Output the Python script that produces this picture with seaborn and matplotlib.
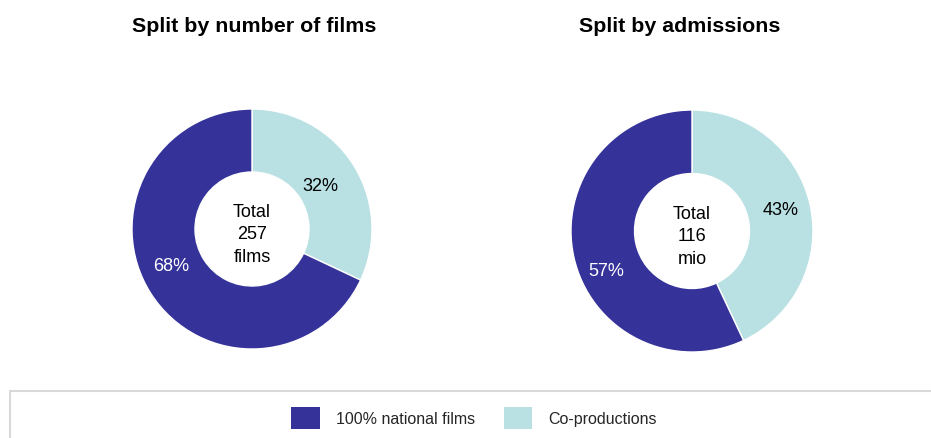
import numpy as np
import matplotlib
matplotlib.use("Agg")
import matplotlib.pyplot as plt
from matplotlib.patches import Patch, Rectangle
import seaborn as sns

# Data
categories = ["Co-productions", "100% national films"]
films_share = [32, 68]
admissions_share = [43, 57]
panel_titles = ["Split by number of films", "Split by admissions"]
centre_labels = ["Total\n257\nfilms", "Total\n116\nmio"]
legend_order = ["100% national films", "Co-productions"]

sns.set_theme(style="white")
plt.rcParams["font.family"] = ["Liberation Sans", "DejaVu Sans"]

palette = {"100% national films": "#35339a", "Co-productions": "#b9e0e3"}
label_colors = {"100% national films": "white", "Co-productions": "black"}

fig = plt.figure(figsize=(9.31, 4.39), dpi=100)

W, H = 931, 439


def donut_axes(cx, cy, r):
    return fig.add_axes([(cx - r) / W, (H - cy - r) / H, 2 * r / W, 2 * r / H])


# (centre x, centre y, radius) in pixels; label tweaks (angle offset deg, radius)
panels = [
    dict(values=films_share, box=(252, 230, 120), title_x=254,
         label_tweak=[(0, 0.67), (-8, 0.74)]),
    dict(values=admissions_share, box=(692, 232, 121), title_x=680,
         label_tweak=[(1, 0.75), (12, 0.78)]),
]

for i, p in enumerate(panels):
    ax = donut_axes(*p["box"])
    colors = [palette[c] for c in categories]
    wedges, _ = ax.pie(
        p["values"], colors=colors, startangle=90, counterclock=False,
        radius=1.0, wedgeprops=dict(width=0.525, edgecolor="white", linewidth=1.0),
    )
    for w, c, v, (dang, rr) in zip(wedges, categories, p["values"], p["label_tweak"]):
        mid = np.deg2rad((w.theta1 + w.theta2) / 2 + dang)
        ax.text(rr * np.cos(mid), rr * np.sin(mid), f"{v}%", ha="center", va="center",
                fontsize=13, color=label_colors[c])
    ax.text(0, -0.04, centre_labels[i], ha="center", va="center", fontsize=13,
            linespacing=1.4, color="black")
    ax.set_xlim(-1, 1)
    ax.set_ylim(-1, 1)
    ax.set_aspect("equal")
    ax.axis("off")
    fig.text(p["title_x"] / W, (H - 27) / H, panel_titles[i], ha="center", va="center",
             fontsize=15.4, fontweight="bold", color="black")

# Legend frame
fig.patches.append(Rectangle((9.5 / W, -0.05), 1.0, (H - 392) / H + 0.05,
                             transform=fig.transFigure, fill=False,
                             edgecolor="#d9d9d9", linewidth=1.5))

handles = [Patch(facecolor=palette[c], edgecolor="none", label=c) for c in legend_order]
fig.legend(handles=handles, loc="center", bbox_to_anchor=(474 / W, (H - 419) / H),
           ncol=2, frameon=False, fontsize=11.5, handlelength=1.8, handleheight=1.75,
           handletextpad=1.0, columnspacing=1.8)

fig.savefig("out.png", dpi=100)
